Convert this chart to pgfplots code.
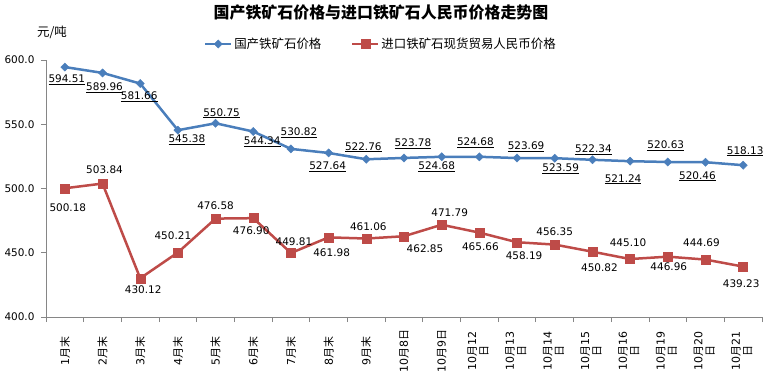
\documentclass[border=0pt]{standalone}
\usepackage{fontspec}
\usepackage{pgfplots}
\usepackage{pgfplotstable}
\pgfplotsset{compat=1.18}
\setmainfont{DejaVu Sans}
\newfontfamily\cjk{Noto Sans CJK SC}
\definecolor{sblue}{HTML}{4A7EBB}
\definecolor{sred}{HTML}{BE4B48}
\definecolor{axgray}{HTML}{868686}

\pgfplotstableread{
x y lab dx dy
0 594.51 594.51 2 -13
1 589.96 589.96 2 -15
2 581.66 581.66 -1 -13
3 545.38 545.38 9 -10
4 550.75 550.75 6 10
5 544.34 544.34 9 -10
6 530.82 530.82 8 16
7 527.64 527.64 -1 -14
8 522.76 522.76 -3 12
9 523.78 523.78 9 14
10 524.68 524.68 -5 -10
11 524.68 524.68 -4 14
12 523.69 523.69 9 11
13 523.59 523.59 6 -11
14 522.34 522.34 1 10
15 521.24 521.24 -7 -18
16 520.63 520.63 -2 16
17 520.46 520.46 -8 -14
18 518.13 518.13 2 14
}\dom

\pgfplotstableread{
x y lab dx dy
0 500.18 500.18 3 -19
1 503.84 503.84 2 14
2 430.12 430.12 3 -11
3 450.21 450.21 -5 17
4 476.58 476.58 0 13
5 476.90 476.90 -2 -13
6 449.81 449.81 3 11
7 461.98 461.98 3 -15
8 461.06 461.06 2 12
9 462.85 462.85 21 -12
10 471.79 471.79 8 12
11 465.66 465.66 1 -14
12 458.19 458.19 7 -13
13 456.35 456.35 0 13
14 450.82 450.82 7 -16
15 445.10 445.10 -2 16
16 446.96 446.96 1 -10
17 444.69 444.69 -4 17
18 439.23 439.23 -2 -17
}\imp

\newcommand{\ml}[1]{#1{\cjk 月末}}
\newcommand{\od}[1]{10{\cjk 月}#1{\cjk 日}}
\newcommand{\odd}[1]{\begin{tabular}{@{}c@{}}10{\cjk 月}#1\\{\cjk 日}\end{tabular}}

\begin{document}
\begin{tikzpicture}
\path[use as bounding box] (-46bp,-63bp) rectangle (727bp,317bp);
\begin{axis}[
  at={(0,0)}, anchor=south west, scale only axis,
  width=716bp, height=257bp,
  xmin=-0.5, xmax=18.5, ymin=400, ymax=600,
  clip=false,
  axis lines*=left,
  axis line style={axgray, line width=0.8bp},
  tick style={axgray, line width=0.8bp},
  tick align=outside,
  major tick length=5bp, minor tick length=5bp,
  xtick={0,...,18},
  minor xtick={-0.5,0.5,...,18.5},
  every major x tick/.append style={draw=none},
  xticklabels={\ml{1},\ml{2},\ml{3},\ml{4},\ml{5},\ml{6},\ml{7},\ml{8},\ml{9},
    \od{8},\od{9},{\odd{12}},{\odd{13}},{\odd{14}},{\odd{15}},{\odd{16}},{\odd{19}},{\odd{20}},{\odd{21}}},
  xticklabel style={rotate=90, anchor=center, xshift=-29bp, inner sep=0pt,
    font=\fontsize{11}{11}\selectfont},
  ytick={400,450,...,600},
  yticklabel style={/pgf/number format/.cd, fixed, fixed zerofill, precision=1, assume math mode=true,
    /tikz/.cd, font=\fontsize{10.5}{12}\selectfont, xshift=-3bp},
  legend columns=2,
  legend style={at={(rel axis cs:0.4679,1.0623)}, anchor=center, draw=none, fill=none,
    font=\cjk\fontsize{12.5}{14}\selectfont,
    /tikz/every even column/.append style={column sep=28bp}},
  legend image code/.code={\draw[mark repeat=2, mark phase=2, line width=2bp]
    plot coordinates {(0bp,0bp)(13bp,0bp)(26bp,0bp)};},
]
\addplot[sblue, line width=2.5bp, mark=square*, mark size=2.9bp,
  mark options={rotate=45, solid, fill=sblue, line width=0.4bp},
  point meta=explicit symbolic,
  nodes near coords={\underline{\pgfplotspointmeta}},
  visualization depends on={\thisrow{dx}\as\mydx},
  visualization depends on={\thisrow{dy}\as\mydy},
  every node near coord/.append style={anchor=center, inner sep=0pt,
    xshift=\mydx bp, yshift=\mydy bp, text=black, font=\fontsize{10.5}{12}\selectfont}
] table[x=x, y=y, meta=lab] {\dom};
\addlegendentry{国产铁矿石价格}
\addplot[sred, line width=2.5bp, mark=square*, mark size=4.5bp,
  mark options={solid, fill=sred, line width=0.4bp},
  point meta=explicit symbolic,
  nodes near coords={\pgfplotspointmeta},
  visualization depends on={\thisrow{dx}\as\mydx},
  visualization depends on={\thisrow{dy}\as\mydy},
  every node near coord/.append style={anchor=center, inner sep=0pt,
    xshift=\mydx bp, yshift=\mydy bp, text=black, font=\fontsize{10.5}{12}\selectfont}
] table[x=x, y=y, meta=lab] {\imp};
\addlegendentry{进口铁矿石现货贸易人民币价格}
\end{axis}
\node[font=\cjk\bfseries\fontsize{16}{18}\selectfont] at (335bp,304.5bp) {国产铁矿石价格与进口铁矿石人民币价格走势图};
\node[font=\cjk\fontsize{12.5}{14}\selectfont] at (6bp,285bp) {元/吨};
\end{tikzpicture}
\end{document}
